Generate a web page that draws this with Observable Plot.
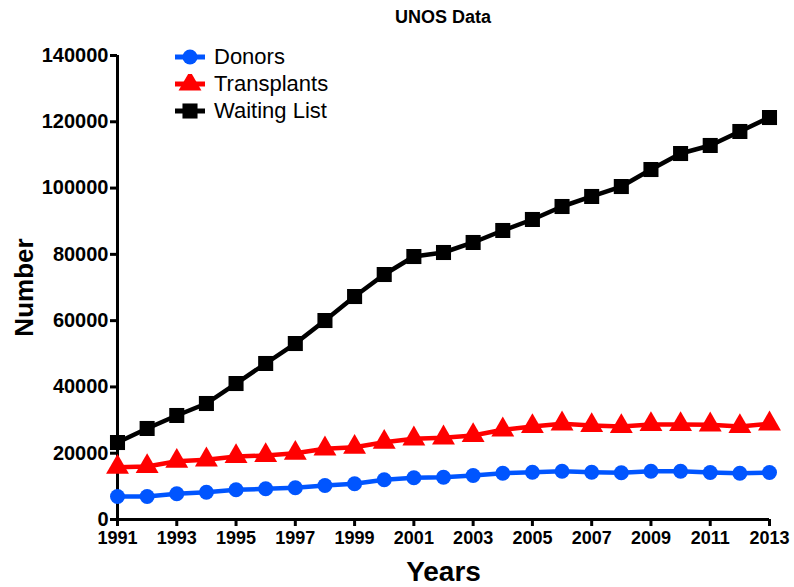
<!DOCTYPE html>
<html>
<head>
<meta charset="utf-8">
<script src="https://cdn.jsdelivr.net/npm/d3@7"></script>
<script src="https://cdn.jsdelivr.net/npm/@observablehq/plot@0.6"></script>
<style>
  body { margin: 0; background: #fff; font-family: "Liberation Sans", Arial, sans-serif; }
  #wrap { position: relative; width: 794px; height: 587px; overflow: hidden; }
  #title { position: absolute; left: 0; width: 886px; top: 7px; text-align: center; font-weight: bold; font-size: 18px; color: #000; }
  #legend { position: absolute; left: 173px; top: 43px; }
  .row { height: 27px; display: flex; align-items: center; font-size: 22px; color: #000; }
  .row svg { margin-right: 7px; }
  #chart { position: absolute; left: 0; top: 0; }
  #chart svg g[aria-label$="tick"] { stroke-width: 3px; }
  #chart svg g[aria-label="y-axis tick label"] { font-size: 20px; }
</style>
</head>
<body>
<div id="wrap">
  <div id="chart"></div>
  <div id="title">UNOS Data</div>
  <div id="legend"></div>
</div>
<script>
const years = d3.range(1991, 2014);
const donors = [6940, 6940, 7750, 8240, 8960, 9260, 9560, 10260, 10770, 11980, 12580, 12760, 13270, 13970, 14270, 14570, 14270, 14090, 14570, 14570, 14180, 13970, 14180];
const transplants = [15780, 15990, 17590, 18010, 19010, 19310, 20000, 21330, 21810, 23320, 24350, 24650, 25340, 27060, 28060, 28870, 28360, 28060, 28660, 28660, 28570, 28060, 28870];
const waiting = [23230, 27460, 31380, 35000, 41030, 47070, 53100, 60040, 67280, 73920, 79350, 80560, 83580, 87200, 90520, 94440, 97460, 100470, 105600, 110430, 112850, 117070, 121290];
const seriesNames = ["Donors", "Transplants", "Waiting List"];
const seriesColors = ["#0055ff", "#ff0000", "#000000"];
const seriesSymbols = ["circle", "triangle", "square"];
const xTicks = d3.range(1991, 2014, 2);
const yTicks = d3.range(0, 140001, 20000);

const seriesValues = [donors, transplants, waiting];
const data = seriesNames.flatMap((name, i) => years.map((year, j) => ({series: name, year, value: seriesValues[i][j]})));

const marks = [
  Plot.ruleX([1991], {stroke: "#000", strokeWidth: 3}),
  Plot.ruleY([0], {stroke: "#000", strokeWidth: 3})
];
seriesNames.forEach((name, i) => {
  const d = data.filter(r => r.series === name);
  marks.push(Plot.line(d, {x: "year", y: "value", stroke: seriesColors[i], strokeWidth: 4.5}));
  marks.push(Plot.dot(d, {x: "year", y: "value", fill: seriesColors[i], stroke: "none", symbol: seriesSymbols[i], r: i === 0 ? 7.5 : 8.5}));
});
marks.push(Plot.text(["Years"], {frameAnchor: "bottom", lineAnchor: "middle", textAnchor: "middle", dy: 53, fontSize: 28, fontWeight: "bold", fill: "#000"}));
marks.push(Plot.text(["Number"], {frameAnchor: "left", textAnchor: "middle", lineAnchor: "middle", dx: -93, rotate: -90, fontSize: 26, fontWeight: "bold", fill: "#000"}));

const chart = Plot.plot({
  width: 794,
  height: 587,
  marginTop: 55,
  marginBottom: 68,
  marginLeft: 117,
  marginRight: 25,
  style: {fontFamily: "Liberation Sans, Arial, sans-serif", fontSize: "18px", fontWeight: "bold", color: "#000", background: "transparent", overflow: "visible"},
  x: {domain: [1991, 2013], ticks: xTicks, tickFormat: "d", tickSize: 7, tickPadding: 5, label: null},
  y: {domain: [0, 140000], ticks: yTicks, tickFormat: "d", tickSize: 7, tickPadding: 2, label: null},
  marks
});
document.getElementById("chart").appendChild(chart);

// legend
const legend = document.getElementById("legend");
seriesNames.forEach((name, i) => {
  const row = document.createElement("div");
  row.className = "row";
  const s = d3.create("svg").attr("width", 34).attr("height", 20);
  s.append("line").attr("x1", 2).attr("x2", 32).attr("y1", 10).attr("y2", 10).attr("stroke", seriesColors[i]).attr("stroke-width", 5);
  s.append("path").attr("transform", "translate(17,10)").attr("fill", seriesColors[i])
    .attr("d", d3.symbol(i === 0 ? d3.symbolCircle : i === 1 ? d3.symbolTriangle : d3.symbolSquare, Math.PI * (i === 0 ? 7.5 : 8.5) ** 2)());
  row.appendChild(s.node());
  const t = document.createElement("span");
  t.textContent = name;
  row.appendChild(t);
  legend.appendChild(row);
});
</script>
</body>
</html>
